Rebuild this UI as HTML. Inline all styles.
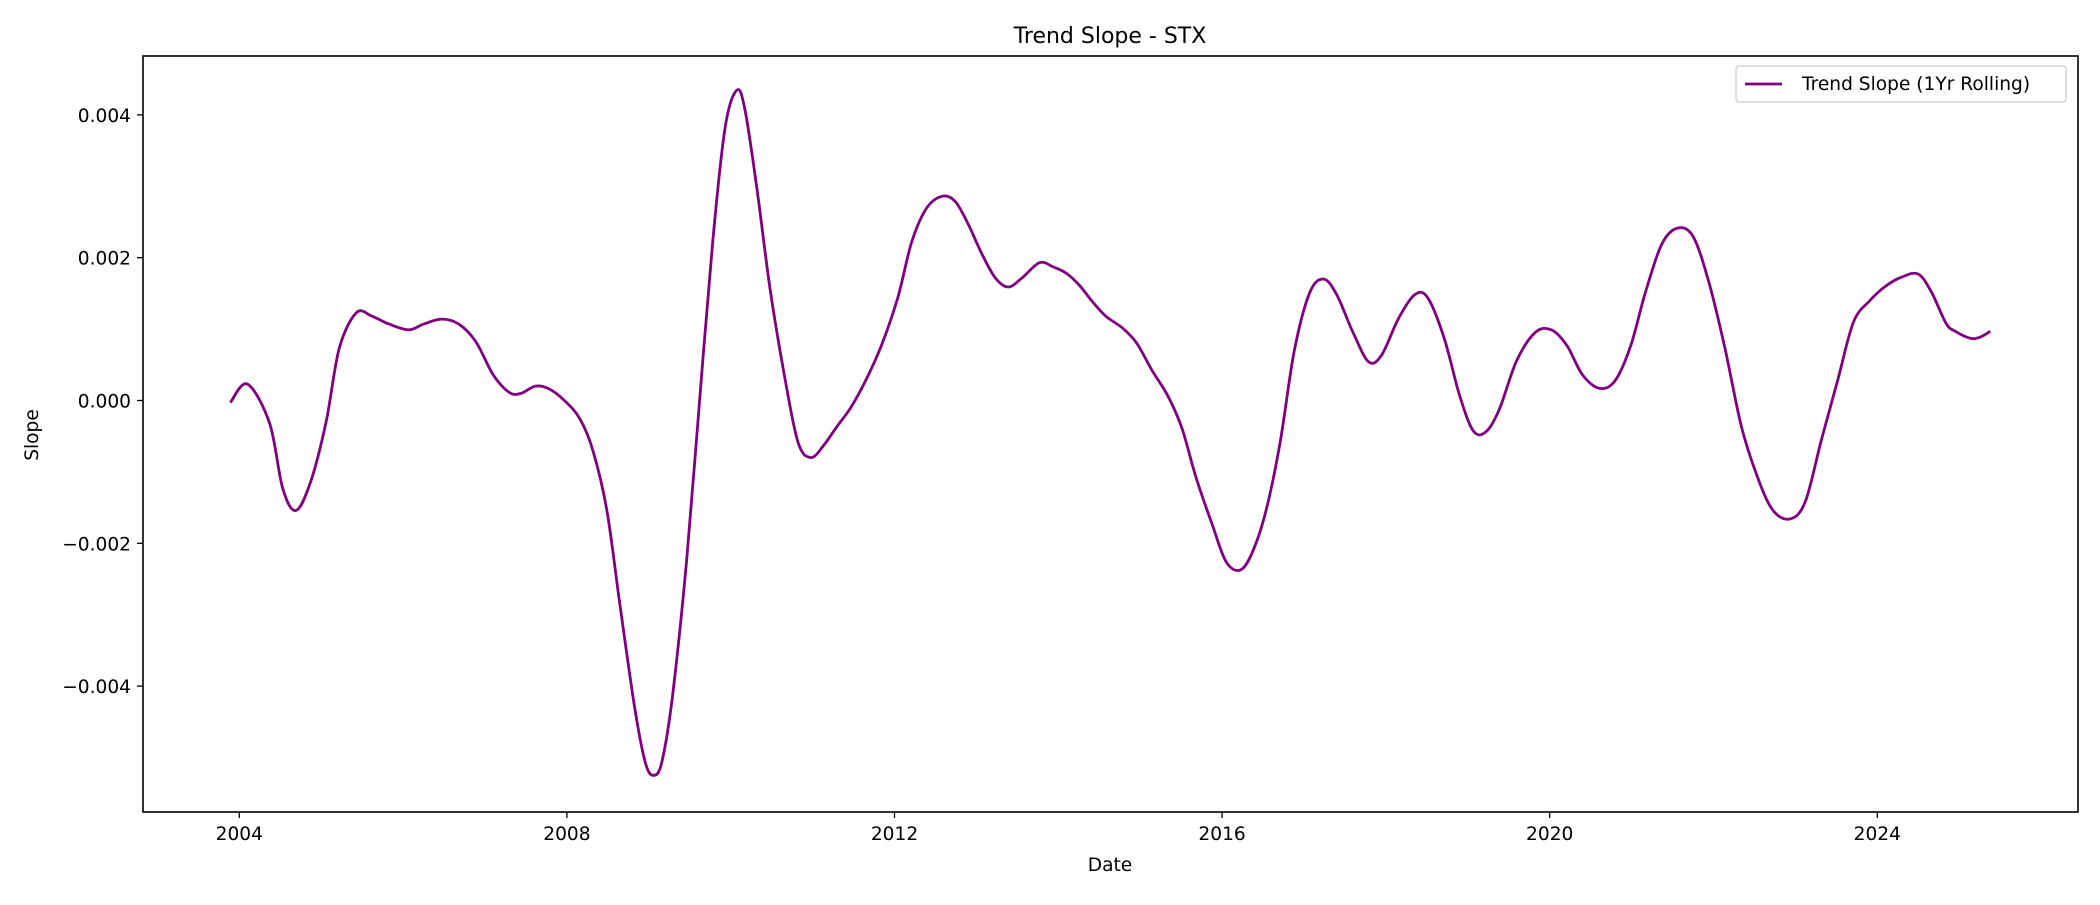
<!DOCTYPE html>
<html><head><meta charset="utf-8"><style>
html,body{margin:0;padding:0;background:#fff;}
svg text{font-family:"DejaVu Sans","Liberation Sans",sans-serif;fill:#000;}
</style></head><body>
<svg id="chart" width="2100" height="900" xmlns="http://www.w3.org/2000/svg">
<rect x="0" y="0" width="2100" height="900" fill="#fff"/>
<text x="1110" y="43" font-size="22" text-anchor="middle">Trend Slope - STX</text>
<g id="ticks"></g>
<path id="line" fill="none" stroke="#800080" stroke-width="2.8" stroke-linejoin="round"/>
<rect x="143" y="56" width="1935" height="756" fill="none" stroke="#000" stroke-width="1.6"/>
<text x="1110" y="871" font-size="18.6" text-anchor="middle">Date</text>
<text transform="translate(38,435) rotate(-90)" font-size="18.6" text-anchor="middle">Slope</text>
<g>
<rect x="1736" y="66" width="330" height="36" fill="#fff" stroke="#ccc" stroke-width="1.3" rx="3"/>
<line x1="1745" y1="84" x2="1782" y2="84" stroke="#800080" stroke-width="2.8"/>
<text x="1802" y="90" font-size="18.6">Trend Slope (1Yr Rolling)</text>
</g>
</svg>
<script>
const years=[2003.89,2004.10,2004.37,2004.53,2004.69,2004.87,2005.06,2005.22,2005.43,2005.62,2005.83,2006.07,2006.25,2006.47,2006.68,2006.89,2007.10,2007.30,2007.44,2007.61,2007.77,2007.97,2008.16,2008.32,2008.49,2008.65,2008.83,2008.96,2009.06,2009.16,2009.29,2009.46,2009.62,2009.78,2009.93,2010.07,2010.17,2010.32,2010.48,2010.65,2010.82,2010.98,2011.14,2011.30,2011.46,2011.64,2011.84,2012.04,2012.21,2012.39,2012.58,2012.74,2012.90,2013.06,2013.23,2013.39,2013.56,2013.77,2013.94,2014.10,2014.26,2014.42,2014.58,2014.79,2014.96,2015.14,2015.34,2015.51,2015.68,2015.88,2016.05,2016.23,2016.39,2016.55,2016.71,2016.88,2017.07,2017.24,2017.40,2017.60,2017.79,2017.95,2018.15,2018.35,2018.51,2018.71,2018.90,2019.07,2019.23,2019.39,2019.59,2019.82,2020.02,2020.21,2020.40,2020.61,2020.80,2020.99,2021.16,2021.36,2021.55,2021.75,2021.95,2022.14,2022.34,2022.53,2022.72,2022.93,2023.12,2023.32,2023.52,2023.71,2023.91,2024.10,2024.30,2024.50,2024.66,2024.84,2024.95,2025.14,2025.26,2025.38];
const slopes=[-0.00003,0.00023,-0.00032,-0.00123,-0.00154,-0.00114,-0.0003,0.00073,0.00123,0.00118,0.00107,0.00099,0.00107,0.00114,0.00107,0.00082,0.00036,0.00011,0.0001,0.0002,0.00017,0,-0.00026,-0.00071,-0.00155,-0.00288,-0.00432,-0.00508,-0.00525,-0.00506,-0.00413,-0.00226,0,0.00222,0.00381,0.00434,0.0041,0.00297,0.00157,0.00039,-0.00058,-0.0008,-0.00062,-0.00036,-0.00011,0.00026,0.00077,0.00144,0.00222,0.00269,0.00286,0.00279,0.00247,0.00207,0.00172,0.00159,0.00172,0.00193,0.00187,0.00178,0.00161,0.00138,0.00118,0.00101,0.0008,0.00043,0.00006,-0.00039,-0.00107,-0.00174,-0.00226,-0.00237,-0.00207,-0.00148,-0.00058,0.00069,0.00151,0.0017,0.00148,0.00095,0.00054,0.00064,0.00114,0.00148,0.00144,0.00088,0.00007,-0.00043,-0.00043,-0.00011,0.00054,0.00095,0.00099,0.00077,0.00036,0.00017,0.00028,0.00077,0.00148,0.00217,0.00241,0.0023,0.00163,0.00073,-0.00036,-0.00105,-0.00153,-0.00166,-0.00142,-0.00054,0.0003,0.0011,0.0014,0.0016,0.00173,0.00177,0.00152,0.00108,0.00097,0.00087,0.00089,0.00097];
const xTicks=[2004,2008,2012,2016,2020,2024];
const yTicks=[-0.004,-0.002,0,0.002,0.004];
const yTickLabels=["\u22120.004","\u22120.002","0.000","0.002","0.004"];
function xs(y){return 239.3+(y-2004)*81.9;}
function ys(v){return 400.5-v/0.002*142.8;}
const NS="http://www.w3.org/2000/svg";
const g=document.getElementById('ticks');
xTicks.forEach(t=>{
 const l=document.createElementNS(NS,'line');
 l.setAttribute('x1',xs(t));l.setAttribute('x2',xs(t));l.setAttribute('y1',812);l.setAttribute('y2',818);l.setAttribute('stroke','#000');l.setAttribute('stroke-width','1.3');
 
 
 g.appendChild(l);
 const tx=document.createElementNS(NS,'text');
 tx.setAttribute('x',xs(t));tx.setAttribute('y',840);tx.setAttribute('font-size','18.6');tx.setAttribute('text-anchor','middle');
 tx.textContent=t;
 
 
 g.appendChild(tx);
});
yTicks.forEach((t,i)=>{
 const l=document.createElementNS(NS,'line');
 l.setAttribute('x1',137);l.setAttribute('x2',143);l.setAttribute('y1',ys(t));l.setAttribute('y2',ys(t));l.setAttribute('stroke','#000');l.setAttribute('stroke-width','1.3');
 
 
 g.appendChild(l);
 const tx=document.createElementNS(NS,'text');
 tx.setAttribute('x',131);tx.setAttribute('y',ys(t)+7);tx.setAttribute('font-size','18.6');tx.setAttribute('text-anchor','end');
 tx.textContent=yTickLabels[i];
 
 
 g.appendChild(tx);
});
const P=years.map((y,i)=>[xs(y),ys(slopes[i])]);
let d='M'+P[0][0].toFixed(1)+','+P[0][1].toFixed(1);
for(let i=0;i<P.length-1;i++){
 const p0=P[Math.max(0,i-1)],p1=P[i],p2=P[i+1],p3=P[Math.min(P.length-1,i+2)];
 const c1=[p1[0]+(p2[0]-p0[0])/6,p1[1]+(p2[1]-p0[1])/6];
 const c2=[p2[0]-(p3[0]-p1[0])/6,p2[1]-(p3[1]-p1[1])/6];
 d+=' C'+c1[0].toFixed(1)+','+c1[1].toFixed(1)+' '+c2[0].toFixed(1)+','+c2[1].toFixed(1)+' '+p2[0].toFixed(1)+','+p2[1].toFixed(1);
}
document.getElementById('line').setAttribute('d',d);
</script>
</body></html>
